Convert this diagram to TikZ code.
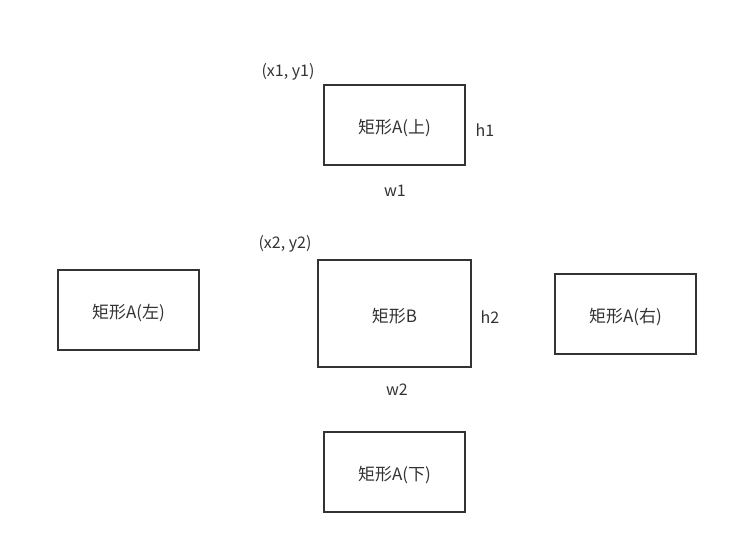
\documentclass[tikz,border=0pt]{standalone}
\usepackage{fontspec}
\setmainfont{Noto Sans CJK SC}
\definecolor{inkgray}{HTML}{333333}

\tikzset{
  rectbox/.style={draw=inkgray, line width=1.3pt, minimum width=141pt, minimum height=80pt,
                  inner sep=0pt, font=\fontsize{17}{20}\selectfont, text=inkgray,
                  text height=17pt, text depth=0pt},
  dimlabel/.style={inner sep=0pt, font=\fontsize{16}{19}\selectfont, text=inkgray,
                   text height=15pt, text depth=0pt}
}

\begin{document}
\begin{tikzpicture}[x=1pt, y=-1pt]
    \useasboundingbox (0,0) rectangle (737,543);
    % upper rectangle A and its sizes
    \node[rectbox] (rectTop) at (394.5,125) {矩形A(上)};
    \node[dimlabel] (cornerTop) at (288,69) {(x1, y1)};
    \node[dimlabel] (heightTop) at (485,129) {h1};
    \node[dimlabel] (widthTop) at (395,189) {w1};
    % rectangle B in the middle
    \node[rectbox, minimum width=153pt, minimum height=107pt] (rectMid) at (394.5,313.5) {矩形B};
    \node[dimlabel] (cornerMid) at (285,241) {(x2, y2)};
    \node[dimlabel] (heightMid) at (490,316) {h2};
    \node[dimlabel] (widthMid) at (397,388) {w2};
    % rectangles A left, right, below
    \node[rectbox] (rectLeft) at (128.5,310) {矩形A(左)};
    \node[rectbox] (rectRight) at (625.5,314) {矩形A(右)};
    \node[rectbox] (rectBottom) at (394.5,472) {矩形A(下)};
\end{tikzpicture}
\end{document}
